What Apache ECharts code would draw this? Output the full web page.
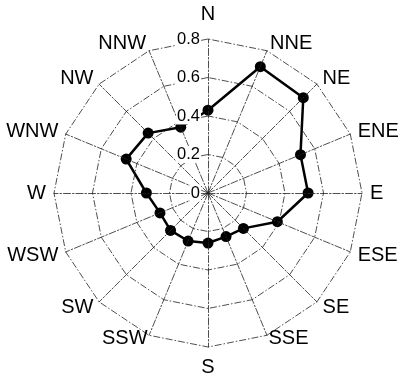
<!DOCTYPE html>
<html>
<head>
<meta charset="utf-8">
<script src="https://cdn.jsdelivr.net/npm/echarts@6/dist/echarts.min.js"></script>
<style>
  html, body { margin: 0; padding: 0; background: #fff; }
  #chart { width: 400px; height: 379px; }
</style>
</head>
<body>
<div id="chart"></div>
<script>
// Compass sectors, clockwise from north
const directions = ['N', 'NNE', 'NE', 'ENE', 'E', 'ESE', 'SE', 'SSE', 'S', 'SSW', 'SW', 'WSW', 'W', 'WNW', 'NW', 'NNW'];
// Relative frequency per sector
const frequency = [0.43, 0.71, 0.70, 0.52, 0.52, 0.39, 0.26, 0.245, 0.26, 0.27, 0.275, 0.27, 0.32, 0.46, 0.44, 0.37];
// Radial scale
const radialTicks = [0, 0.2, 0.4, 0.6, 0.8];

const radialMin = radialTicks[0];
const radialMax = radialTicks[radialTicks.length - 1];

// Radar indicators run counter-clockwise, so walk the compass backwards from N
const order = directions.map((_, i) => (directions.length - i) % directions.length);

const gridLine = { color: '#222', width: 0.8, type: [7, 2, 1.5, 2] };

// Name offsets for the near-vertical spokes
const nameGapFor = { N: 25, S: 20, SSE: 4, SSW: 4 };

const indicator = order.map((k, j) => {
  const ind = { name: directions[k], min: radialMin, max: radialMax };
  if (j === 0) {
    // radial scale is labelled along the north spoke only
    ind.axisLabel = { show: true };
  }
  if (nameGapFor[directions[k]] !== undefined) ind.nameGap = nameGapFor[directions[k]];
  return ind;
});

const chart = echarts.init(document.getElementById('chart'), null, { renderer: 'canvas' });
chart.setOption({
  backgroundColor: '#fff',
  animation: false,
  radar: {
    z: 3,
    center: [208, 193],
    radius: 154,
    startAngle: 90,
    shape: 'polygon',
    splitNumber: radialTicks.length - 1,
    indicator: indicator,
    nameGap: 8,
    axisName: {
      color: '#000',
      fontSize: 20,
      fontFamily: 'Liberation Sans',
      verticalAlign: 'middle',
      padding: [6, 0, 0, 0]
    },
    axisLine: { show: true, lineStyle: gridLine },
    splitLine: { show: true, lineStyle: gridLine },
    splitArea: { show: false },
    axisTick: { show: false },
    axisLabel: {
      show: false,
      color: '#000',
      fontSize: 16.5,
      fontFamily: 'Liberation Sans',
      backgroundColor: '#fff',
      padding: [0, 1],
      margin: 7,
      align: 'right',
      formatter: (v) => {
        const t = radialTicks.find((r) => Math.abs(r - v) < 1e-9);
        return t === undefined ? '' : String(t);
      }
    }
  },
  series: [{
    type: 'radar',
    z: 2,
    symbol: 'circle',
    symbolSize: 11,
    lineStyle: { color: '#000', width: 2.5 },
    itemStyle: { color: '#000' },
    data: [{ value: order.map((k) => frequency[k]) }]
  }]
});
</script>
</body>
</html>
